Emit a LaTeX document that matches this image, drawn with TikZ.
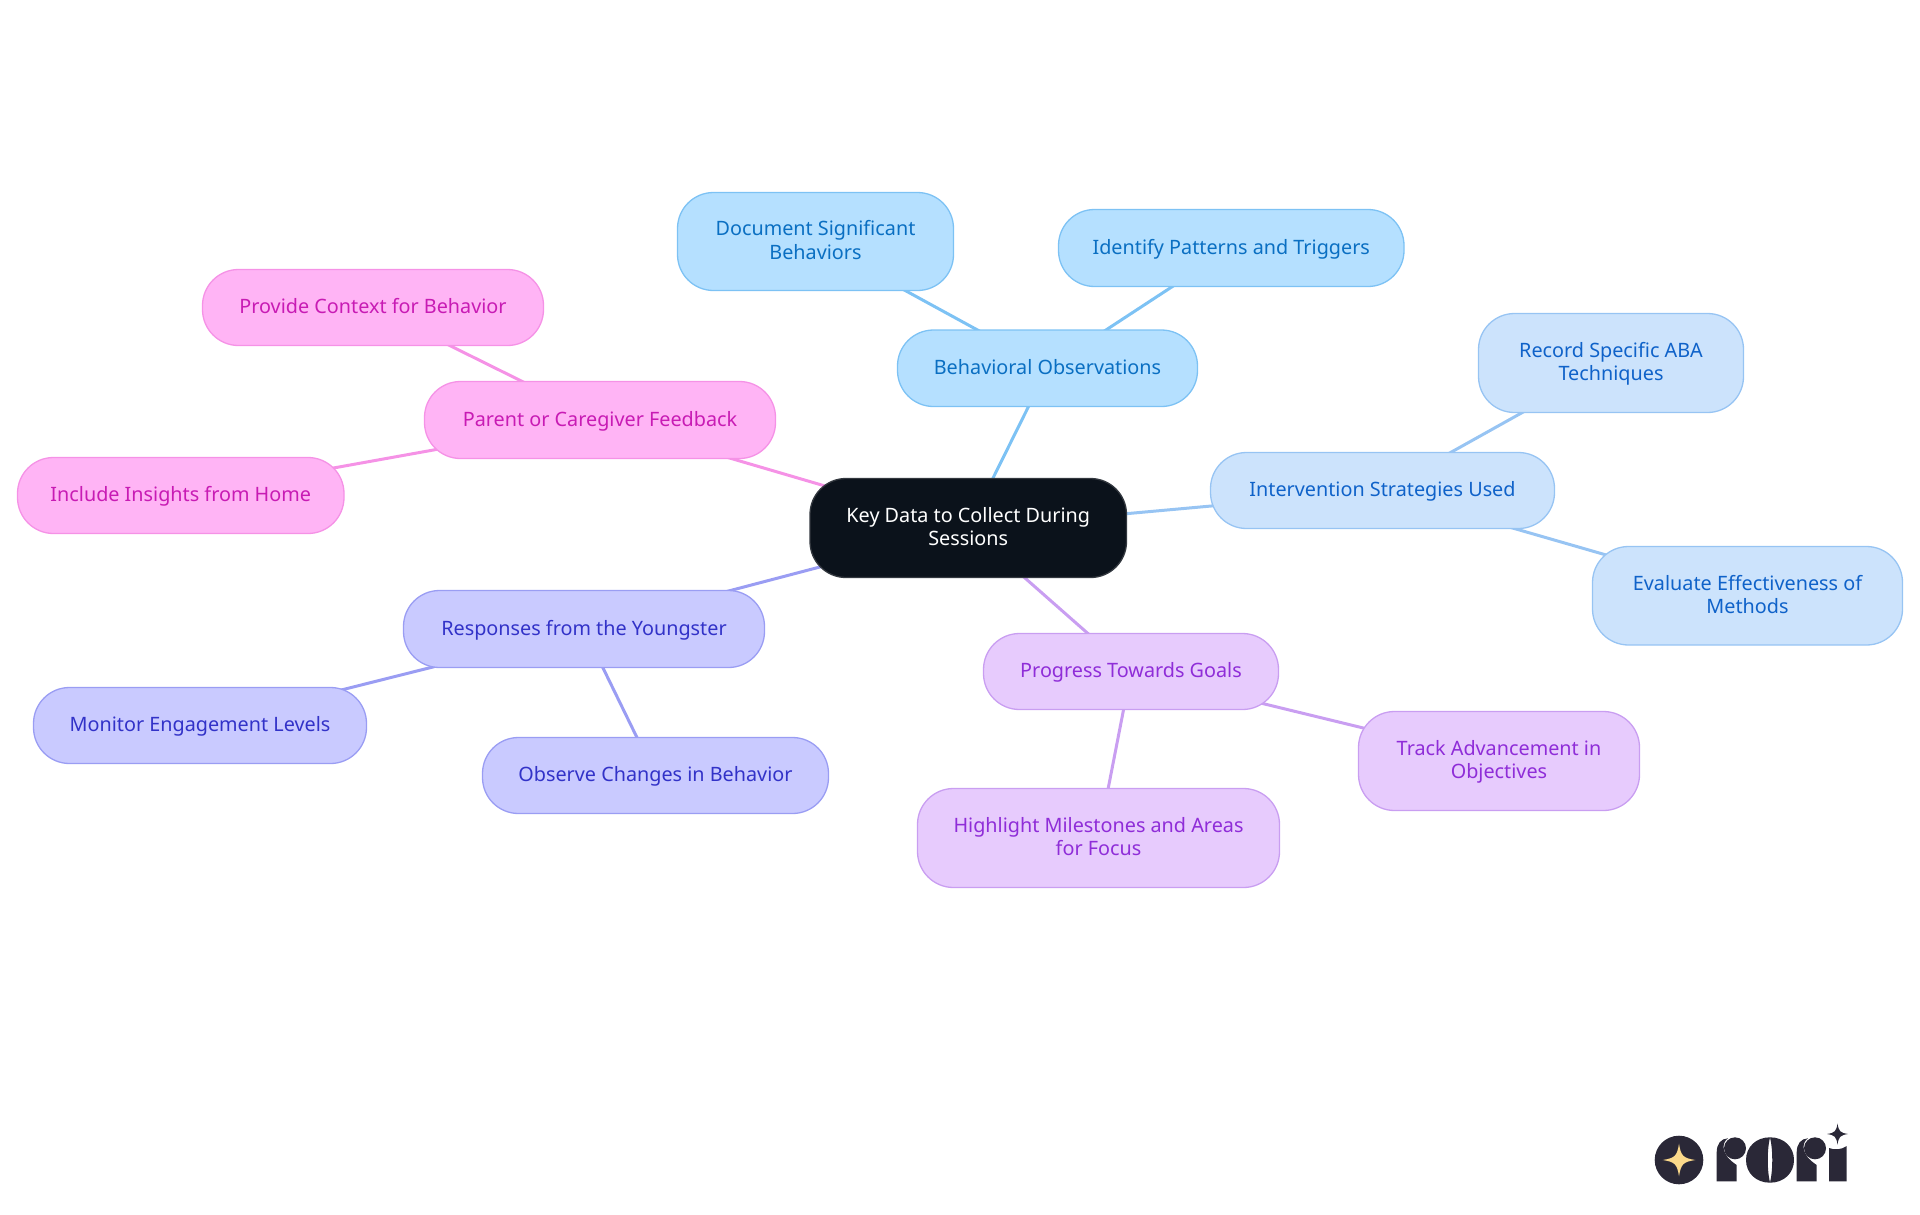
\documentclass[tikz,border=0pt]{standalone}
\usepackage{fontspec}
\setmainfont{Noto Sans}
\usetikzlibrary{backgrounds}
\definecolor{cenfill}{HTML}{0B121B}
\definecolor{cenline}{HTML}{33383F}
\definecolor{bfill}{HTML}{B5E0FF}\definecolor{bline}{HTML}{7DC2F4}\definecolor{btext}{HTML}{0A6FC2}
\definecolor{ifill}{HTML}{CCE3FC}\definecolor{iline}{HTML}{97C4F3}\definecolor{itext}{HTML}{0F62C9}
\definecolor{pfill}{HTML}{E7CBFD}\definecolor{pline}{HTML}{C99EF1}\definecolor{ptext}{HTML}{8F2DD8}
\definecolor{rfill}{HTML}{C9CAFF}\definecolor{rline}{HTML}{9A9DF3}\definecolor{rtext}{HTML}{3232C8}
\definecolor{cfill}{HTML}{FFB4F5}\definecolor{cline}{HTML}{F592E6}\definecolor{ctext}{HTML}{C81BB4}
\definecolor{logodark}{HTML}{2A2837}\definecolor{logostar}{HTML}{FBD98A}
\tikzset{
  x=1pt,y=-1pt,
  mm/.style={shape=rectangle,rounded corners=36pt,line width=1.3pt,inner sep=0pt,align=center,
    font=\fontsize{19.8}{23.3}\selectfont},
  cen/.style={mm,fill=cenfill,draw=cenline,text=white},
  bb/.style={mm,fill=bfill,draw=bline,text=btext},
  ib/.style={mm,fill=ifill,draw=iline,text=itext},
  pb/.style={mm,fill=pfill,draw=pline,text=ptext},
  rb/.style={mm,fill=rfill,draw=rline,text=rtext},
  cb/.style={mm,fill=cfill,draw=cline,text=ctext},
  link/.style={line width=3pt},
}
\newcommand{\boxnode}[7]{% style,name,x0,x1,y0,y1,text
  \node[#1,minimum width=#4pt-#3pt,minimum height=#6pt-#5pt] (#2) at ({(#3+#4)/2},{(#5+#6)/2}) {\rule{0pt}{18pt}#7\rule[-6pt]{0pt}{6pt}};}
\newcommand{\fourstar}[4]{% cx cy r colour
  \fill[#4] (#1-#3,#2) .. controls (#1-#3*.25,#2-#3*.12) and (#1-#3*.12,#2-#3*.25) .. (#1,#2-#3)
    .. controls (#1+#3*.12,#2-#3*.25) and (#1+#3*.25,#2-#3*.12) .. (#1+#3,#2)
    .. controls (#1+#3*.25,#2+#3*.12) and (#1+#3*.12,#2+#3*.25) .. (#1,#2+#3)
    .. controls (#1-#3*.12,#2+#3*.25) and (#1-#3*.25,#2+#3*.12) .. (#1-#3,#2) -- cycle;}
\begin{document}
\begin{tikzpicture}
\useasboundingbox (0,0) rectangle (1920,1215);
\boxnode{cen}{key}{810}{1126.5}{478.5}{577.5}{Key Data to Collect During\\Sessions}
\boxnode{bb}{beh}{897.5}{1197.5}{330}{406.5}{Behavioral Observations}
\boxnode{bb}{doc}{677.5}{953.5}{192.5}{290.5}{Document Significant\\Behaviors}
\boxnode{bb}{ide}{1058.5}{1404}{209.5}{286.5}{Identify Patterns and Triggers}
\boxnode{ib}{int}{1210.5}{1554.5}{452.5}{528.5}{Intervention Strategies Used}
\boxnode{ib}{rec}{1478.5}{1743.5}{313.5}{412.5}{Record Specific ABA\\Techniques}
\boxnode{ib}{eva}{1592.5}{1902.5}{546.5}{645}{Evaluate Effectiveness of\\Methods}
\boxnode{pb}{pro}{983.5}{1278.5}{633.5}{709.5}{Progress Towards Goals}
\boxnode{pb}{tra}{1358.5}{1639.5}{711.5}{810.5}{Track Advancement in\\Objectives}
\boxnode{pb}{hig}{917.5}{1279.5}{788.5}{887.5}{Highlight Milestones and Areas\\for Focus}
\boxnode{rb}{res}{403.5}{764.5}{590.5}{667.5}{Responses from the Youngster}
\boxnode{rb}{mon}{33.5}{366.5}{687.5}{763.5}{Monitor Engagement Levels}
\boxnode{rb}{obs}{482.5}{828.5}{737.5}{813.5}{Observe Changes in Behavior}
\boxnode{cb}{par}{424.5}{775.5}{381.5}{458.5}{Parent or Caregiver Feedback}
\boxnode{cb}{prv}{202.5}{543.5}{269.5}{345.5}{Provide Context for Behavior}
\boxnode{cb}{inc}{17.5}{344}{457.5}{533.5}{Include Insights from Home}
\begin{pgfonlayer}{background}
\draw[link,bline] (key.center) -- (beh.center);
\draw[link,bline] (beh.center) -- (doc.center);
\draw[link,bline] (beh.center) -- (ide.center);
\draw[link,iline] (key.center) -- (int.center);
\draw[link,iline] (int.center) -- (rec.center);
\draw[link,iline] (int.center) -- (eva.center);
\draw[link,pline] (key.center) -- (pro.center);
\draw[link,pline] (pro.center) -- (tra.center);
\draw[link,pline] (pro.center) -- (hig.center);
\draw[link,rline] (key.center) -- (res.center);
\draw[link,rline] (res.center) -- (mon.center);
\draw[link,rline] (res.center) -- (obs.center);
\draw[link,cline] (key.center) -- (par.center);
\draw[link,cline] (par.center) -- (prv.center);
\draw[link,cline] (par.center) -- (inc.center);
\end{pgfonlayer}
% logo
\fill[logodark] (1679,1160) circle (24.3);
\fourstar{1679}{1160}{16.3}{logostar}
\fourstar{1837.5}{1134}{10.5}{logodark}
% first r
\fill[logodark] (1716.7,1181.3) -- (1716.7,1152) .. controls (1716.7,1144) and (1721,1138.5) .. (1728,1138.3) .. controls (1721,1143) and (1721,1155) .. (1736.7,1165) -- (1736.7,1181.3) -- cycle;
\fill[logodark] (1735,1148.3) circle (11);
% o
\fill[logodark] (1770,1137.3) .. controls (1756,1137.3) and (1746,1147) .. (1746,1160) .. controls (1746,1173) and (1756,1182.7) .. (1770,1182.7) .. controls (1767,1170) and (1767,1150) .. (1770,1137.3) -- cycle;
\fill[logodark] (1770,1137.3) .. controls (1784,1137.3) and (1794,1147) .. (1794,1160) .. controls (1794,1173) and (1784,1182.7) .. (1770,1182.7) .. controls (1773,1170) and (1773,1150) .. (1770,1137.3) -- cycle;
% second r
\fill[logodark] (1796.7,1181.3) -- (1796.7,1152) .. controls (1796.7,1144) and (1801,1138.5) .. (1808,1138.3) .. controls (1801,1143) and (1801,1155) .. (1816.7,1165) -- (1816.7,1181.3) -- cycle;
\fill[logodark] (1815,1148.3) circle (11);
% i
\fill[logodark] (1829,1181.3) -- (1829,1148) .. controls (1834,1150) and (1841,1150) .. (1846.7,1146) -- (1846.7,1181.3) -- cycle;
\end{tikzpicture}
\end{document}
